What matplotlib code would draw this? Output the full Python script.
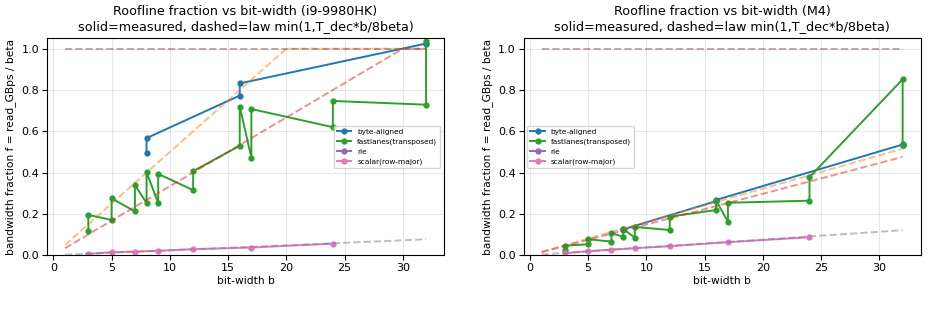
import matplotlib.pyplot as plt

# bit widths and measured fractions, i9-9980HK
i9_byte_b = [8, 8, 16, 16, 32, 32]
i9_byte_f = [0.494, 0.567, 0.773, 0.832, 1.025, 1.029]
i9_fast_b = [3, 3, 5, 5, 7, 7, 8, 8, 9, 9, 12, 12, 16, 16, 17, 17, 24, 24, 32, 32]
i9_fast_f = [0.117, 0.195, 0.171, 0.275, 0.212, 0.340, 0.253, 0.402, 0.253, 0.394,
             0.315, 0.407, 0.530, 0.720, 0.472, 0.708, 0.620, 0.747, 0.729, 1.038]
i9_rle_b = []
i9_rle_f = []
i9_scalar_b = [3, 5, 7, 9, 12, 17, 24]
i9_scalar_f = [0.0064, 0.0145, 0.0177, 0.021, 0.029, 0.037, 0.056]

# law min(1, T_dec*b/8beta), i9-9980HK
i9_byte_law_b = [1, 20, 32]
i9_byte_law_f = [0.05, 1.0, 1.0]
i9_fast_law_b = [1, 30, 32]
i9_fast_law_f = [0.034, 1.0, 1.0]
i9_rle_law_b = [1, 32]
i9_rle_law_f = [1.0, 1.0]
i9_scalar_law_b = [1, 32]
i9_scalar_law_f = [0.0024, 0.077]

# bit widths and measured fractions, M4
m4_byte_b = [8, 8, 16, 16, 32, 32]
m4_byte_f = [0.122, 0.125, 0.262, 0.268, 0.536, 0.540]
m4_fast_b = [3, 3, 5, 5, 7, 7, 8, 8, 9, 9, 12, 12, 16, 16, 17, 17, 24, 24, 32, 32]
m4_fast_f = [0.027, 0.046, 0.053, 0.077, 0.066, 0.106, 0.090, 0.128, 0.085, 0.137,
             0.122, 0.187, 0.219, 0.264, 0.162, 0.254, 0.264, 0.378, 0.852, 0.536]
m4_rle_b = []
m4_rle_f = []
m4_scalar_b = [3, 5, 7, 9, 12, 17, 24]
m4_scalar_f = [0.0097, 0.0193, 0.027, 0.034, 0.0435, 0.063, 0.087]

# law min(1, T_dec*b/8beta), M4
m4_byte_law_b = [1, 32]
m4_byte_law_f = [0.016, 0.516]
m4_fast_law_b = [1, 32]
m4_fast_law_f = [0.015, 0.476]
m4_rle_law_b = [1, 32]
m4_rle_law_f = [1.0, 1.0]
m4_scalar_law_b = [1, 32]
m4_scalar_law_f = [0.0038, 0.121]

labels = ['byte-aligned', 'fastlanes(transposed)', 'rle', 'scalar(row-major)']

panels = [
    ('i9-9980HK', 'center right',
     [(i9_byte_b, i9_byte_f, i9_byte_law_b, i9_byte_law_f),
      (i9_fast_b, i9_fast_f, i9_fast_law_b, i9_fast_law_f),
      (i9_rle_b, i9_rle_f, i9_rle_law_b, i9_rle_law_f),
      (i9_scalar_b, i9_scalar_f, i9_scalar_law_b, i9_scalar_law_f)]),
    ('M4', 'center left',
     [(m4_byte_b, m4_byte_f, m4_byte_law_b, m4_byte_law_f),
      (m4_fast_b, m4_fast_f, m4_fast_law_b, m4_fast_law_f),
      (m4_rle_b, m4_rle_f, m4_rle_law_b, m4_rle_law_f),
      (m4_scalar_b, m4_scalar_f, m4_scalar_law_b, m4_scalar_law_f)]),
]

fig, axes = plt.subplots(1, 2, figsize=(9.3, 3.31), dpi=100)
fig.subplots_adjust(left=0.0505, right=0.990, bottom=0.229, top=0.884, wspace=0.2)

for ax, (name, legend_loc, series) in zip(axes, panels):
    for i, (b, f, lb, lf) in enumerate(series):
        ax.plot(b, f, marker='o', markersize=3.5, linewidth=1.4,
                color='C%d' % (2 * i), label=labels[i])
        ax.plot(lb, lf, linestyle='--', linewidth=1.4, alpha=0.5,
                color='C%d' % (2 * i + 1))
    ax.set_ylim(0, 1.05)
    ax.set_xlabel('bit-width b', fontsize=7.7, labelpad=2)
    ax.set_ylabel('bandwidth fraction f = read_GBps / beta', fontsize=7.7)
    ax.set_title('Roofline fraction vs bit-width (%s)\n'
                 'solid=measured, dashed=law min(1,T_dec*b/8beta)' % name,
                 fontsize=9.2)
    ax.tick_params(labelsize=8, pad=2)
    ax.grid(True, alpha=0.3)
    ax.legend(loc=legend_loc, fontsize=5.3)

plt.savefig('out.png')
